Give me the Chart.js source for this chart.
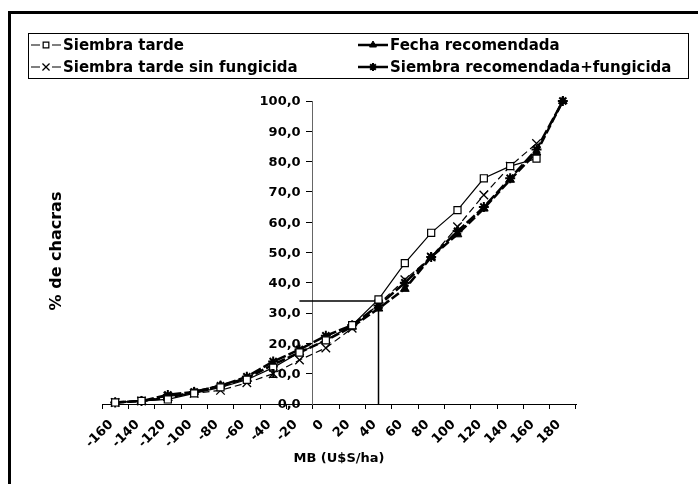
<!DOCTYPE html>
<html>
<head>
<meta charset="utf-8">
<script src="https://cdn.jsdelivr.net/npm/chart.js@4.4.1/dist/chart.umd.min.js"></script>
<style>
  body { margin: 0; background: #fff; }
  #wrap { width: 698px; height: 484px; }
</style>
</head>
<body>
<div id="wrap"><canvas id="grafico" width="698" height="484"></canvas></div>
<script>
// MB (U$S/ha) categories
var mb = ['-160','-140','-120','-100','-80','-60','-40','-20','0','20','40','60','80','100','120','140','160','180'];

// % de chacras acumulado
var siembraTarde      = [0.5, 1, 1.5, 3.5, 5.5, 8, 12, 17, 21, 26, 34.5, 46.5, 56.5, 64, 74.5, 78.5, 81, null];
var fechaRecomendada  = [0.5, 1, 2, 4, 6, 8.5, 13, 17, 21, 25.5, 31.5, 38, 48.5, 56, 64.5, 74, 83, 100];
var tardeSinFungicida = [0.5, 1, 2.5, 3.5, 4.5, 7, 10, 14.5, 18.5, 25, 33, 41, 48.5, 58.5, 69, 78.5, 86, null];
var recomFungicida    = [0.5, 1, 3, 4, 6, 9, 14, 18, 22.5, 26, 32.5, 40, 48.5, 57, 65, 74.5, 84, 100];

// reference line: 34 % of chacras at MB 40
var corteDesde = '-20';
var corteMB = '40';
var cortePct = 34;

var fuente = 'DejaVu Sans';

// legend box, y tick labels, y title, outer frame
var decoracion = {
	id: 'decoracion',
	beforeDraw: function(chart) {
		var ctx = chart.ctx;
		ctx.save();
		ctx.fillStyle = '#fff';
		ctx.fillRect(0, 0, chart.width, chart.height);
		ctx.strokeStyle = '#000';
		ctx.lineWidth = 3;
		ctx.strokeRect(9.5, 12.5, 760, 520);
		ctx.restore();
	},
	afterDraw: function(chart) {
		var ctx = chart.ctx;
		ctx.save();
		// legend
		ctx.strokeStyle = '#000';
		ctx.lineWidth = 1;
		ctx.strokeRect(28.5, 33.5, 660, 45);
		ctx.font = 'bold 15px "' + fuente + '"';
		ctx.textBaseline = 'middle';
		ctx.textAlign = 'left';
		for (var i = 0; i < 4; i++) {
			var ds = chart.data.datasets[i];
			var x = (i % 2 === 0) ? 31 : 358;
			var y = (i < 2) ? 45 : 67;
			ctx.strokeStyle = '#000';
			ctx.lineWidth = ds.borderWidth;
			ctx.setLineDash([]);
			ctx.beginPath();
			ctx.moveTo(x, y);
			ctx.lineTo(x + 9, y);
			ctx.moveTo(x + 21, y);
			ctx.lineTo(x + 30, y);
			if (ds.borderWidth > 1.5) { ctx.moveTo(x + 9, y); ctx.lineTo(x + 21, y); }
			ctx.stroke();
			ctx.fillStyle = ds.pointBackgroundColor;
			ctx.lineWidth = ds.pointBorderWidth;
			Chart.helpers.drawPoint(ctx, {pointStyle: ds.pointStyle, radius: ds.pointRadius - 1, borderWidth: ds.pointBorderWidth, rotation: 0}, x + 15, y);
			ctx.fillStyle = '#000';
			ctx.fillText(ds.label, x + 32, y + 1);
		}
		// y tick labels, left of the crossing axis
		var ys = chart.scales.y;
		var ejeX = chart.scales.x.getPixelForValue(7.5);
		ctx.font = 'bold 13px "' + fuente + '"';
		ctx.textAlign = 'right';
		ys.ticks.forEach(function(t) {
			ctx.fillText(t.label, ejeX - 12, ys.getPixelForValue(t.value) + 1);
		});
		// y axis title
		ctx.translate(57, 251);
		ctx.rotate(-Math.PI / 2);
		ctx.textAlign = 'center';
		ctx.font = 'bold 16px "' + fuente + '"';
		ctx.fillText('% de chacras', 0, 0);
		ctx.restore();
	}
};

var ctx = document.getElementById('grafico');

var grafico = new Chart(ctx, {
	type: 'line',
	data: {
		labels: mb,
		datasets: [
			{
				label: 'Siembra tarde',
				data: siembraTarde,
				borderColor: '#000',
				borderWidth: 1.2,
				pointStyle: 'rect',
				pointRadius: 5,
				pointBackgroundColor: '#fff',
				pointBorderColor: '#000',
				pointBorderWidth: 1.2,
				clip: false
			},
			{
				label: 'Fecha recomendada',
				data: fechaRecomendada,
				borderColor: '#000',
				borderWidth: 2.5,
				borderDash: [9, 3],
				pointStyle: 'triangle',
				pointRadius: 5,
				pointBackgroundColor: '#000',
				pointBorderColor: '#000',
				pointBorderWidth: 1,
				clip: false
			},
			{
				label: 'Siembra tarde sin fungicida',
				data: tardeSinFungicida,
				borderColor: '#000',
				borderWidth: 1.2,
				borderDash: [7, 4],
				pointStyle: 'crossRot',
				pointRadius: 6,
				pointBackgroundColor: '#000',
				pointBorderColor: '#000',
				pointBorderWidth: 1.3,
				clip: false
			},
			{
				label: 'Siembra recomendada+fungicida',
				data: recomFungicida,
				borderColor: '#000',
				borderWidth: 2.5,
				borderDash: [11, 3],
				pointStyle: 'star',
				pointRadius: 5,
				pointBackgroundColor: '#000',
				pointBorderColor: '#000',
				pointBorderWidth: 2,
				clip: false
			},
			{
				label: 'corte',
				data: [{x: corteDesde, y: cortePct}, {x: corteMB, y: cortePct}, {x: corteMB, y: 0}],
				borderColor: '#000',
				borderWidth: 1.5,
				pointRadius: 0,
				clip: false
			}
		]
	},
	options: {
		responsive: false,
		animation: false,
		devicePixelRatio: 1,
		layout: { padding: { left: 102, right: 122, top: 101, bottom: 0 } },
		plugins: {
			legend: { display: false },
			tooltip: { enabled: false }
		},
		elements: { line: { tension: 0 } },
		scales: {
			x: {
				offset: true,
				afterFit: function(scale) { scale.height = 80; },
				grid: { offset: true, drawOnChartArea: false, drawTicks: true, tickLength: 5, color: '#000' },
				border: { display: true, color: '#000', width: 1 },
				ticks: {
					autoSkip: false,
					minRotation: 45,
					maxRotation: 45,
					padding: 8,
					labelOffset: -4,
					color: '#000',
					font: { family: fuente, weight: 'bold', size: 13 }
				},
				title: {
					display: true,
					text: 'MB (U$S/ha)',
					color: '#000',
					padding: { top: 0, bottom: 18 },
					font: { family: fuente, weight: 'bold', size: 13 }
				}
			},
			y: {
				position: { x: 7.5 },
				min: 0,
				max: 100,
				grid: { drawOnChartArea: false, drawTicks: true, tickLength: 6, color: '#000' },
				border: { display: true, color: '#666', width: 1, dash: [2, 2] },
				ticks: {
					stepSize: 10,
					color: 'rgba(0,0,0,0)',
					font: { family: fuente, weight: 'bold', size: 13 },
					callback: function(v) { return v.toFixed(1).replace('.', ','); }
				}
			}
		}
	},
	plugins: [decoracion]
});
</script>
</body>
</html>
